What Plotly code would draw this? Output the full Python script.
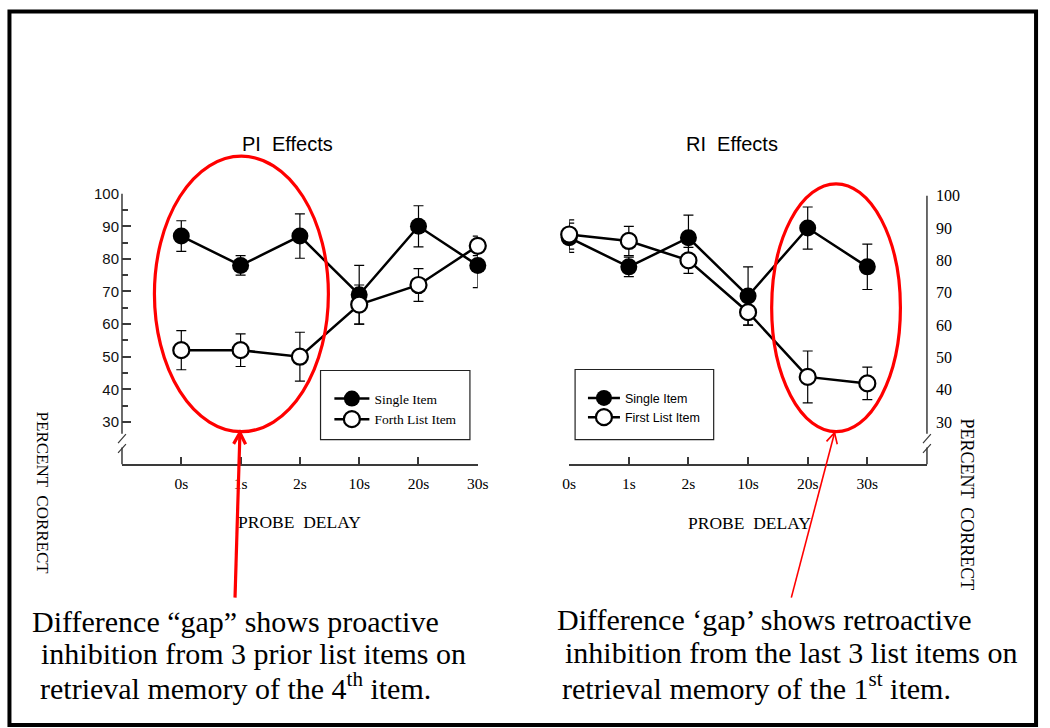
import math
import plotly.graph_objects as go

# ---------------- data ----------------
categories = ["0s", "1s", "2s", "10s", "20s", "30s"]
y_tick_vals = [30, 40, 50, 60, 70, 80, 90, 100]
y_minor_vals = [35, 45, 55, 65, 75, 85, 95]

pi_single = [87, 78, 87, 69, 90, 78]
pi_single_err = [4.7, 3.0, 6.8, 9.0, 6.3, 6.8]
pi_forth = [52, 52, 50, 66, 72, 84]
pi_forth_err = [6.0, 5.0, 7.5, 6.0, 5.0, 3.0]

ri_single = [87, 78, 87, 69, 90, 78]
ri_single_err = [4.5, 3.0, 7.0, 9.0, 6.5, 7.0]
ri_first = [88, 86, 80, 64, 44, 42]
ri_first_err = [4.5, 4.5, 4.0, 4.0, 8.0, 5.0]

W, H = 1050, 728
def px(x):
    return x / W
def py(y):
    return 1 - y / H

SERIF = "Liberation Serif"
SANS = "Liberation Sans"
AX = "#3a3a3a"
RED = "#ff0000"

fig = go.Figure()

def add_pair(xa, ya, single, single_err, other, other_err, other_name, legend):
    fig.add_trace(go.Scatter(
        x=categories, y=single, xaxis=xa, yaxis=ya, name="Single Item",
        mode="lines+markers", legend=legend,
        line=dict(color="black", width=2.5),
        marker=dict(symbol="circle", size=17, color="black"),
        error_y=dict(type="data", array=single_err, color="black", thickness=1.2, width=5),
        cliponaxis=False,
    ))
    fig.add_trace(go.Scatter(
        x=categories, y=other, xaxis=xa, yaxis=ya, name=other_name,
        mode="lines+markers", legend=legend,
        line=dict(color="black", width=2.5),
        marker=dict(symbol="circle", size=16, color="white", line=dict(color="black", width=2.2)),
        error_y=dict(type="data", array=other_err, color="black", thickness=1.2, width=5),
        cliponaxis=False,
    ))

add_pair("x", "y", pi_single, pi_single_err, pi_forth, pi_forth_err, "Forth List Item", "legend")
add_pair("x2", "y2", ri_single, ri_single_err, ri_first, ri_first_err, "First List Item", "legend2")

xcommon = dict(type="category", categoryorder="array", categoryarray=categories,
               showline=True, linecolor=AX, linewidth=1.5, ticks="inside", ticklen=8,
               tickcolor=AX, tickwidth=1.5, showgrid=False, zeroline=False,
               tickfont=dict(family=SERIF, size=15.5, color="black"), ticklabelstandoff=4,
               fixedrange=True)

fig.update_layout(
    width=W, height=H, autosize=False,
    margin=dict(l=0, r=0, t=0, b=0),
    paper_bgcolor="white", plot_bgcolor="white",
    xaxis=dict(domain=[px(117), px(479)], range=[-1, 5], anchor="y", **xcommon),
    yaxis=dict(domain=[py(461), py(187)], range=[17, 100], anchor="x",
               showline=False, showgrid=False, zeroline=False, fixedrange=True,
               tickvals=y_tick_vals, ticks="inside", ticklen=9, tickcolor=AX, tickwidth=1.5,
               minor=dict(tickvals=y_minor_vals, ticks="inside", ticklen=6, tickcolor=AX, tickwidth=1.5),
               tickfont=dict(family=SANS, size=15, color="#111"), ticklabelstandoff=2),
    xaxis2=dict(domain=[px(572), px(936)], range=[0, 6], anchor="y2", **xcommon),
    yaxis2=dict(domain=[py(461), py(189)], range=[17, 100], anchor="x2", side="right",
                showline=False, showgrid=False, zeroline=False, fixedrange=True,
                tickvals=y_tick_vals, ticks="",
                tickfont=dict(family=SERIF, size=16, color="black"), ticklabelstandoff=8),
    legend=dict(x=px(328), y=py(379), xanchor="left", yanchor="top",
                bgcolor="rgba(0,0,0,0)", borderwidth=0, itemwidth=35,
                font=dict(family=SERIF, size=13.5, color="black"), tracegroupgap=0),
    legend2=dict(x=px(586), y=py(379), xanchor="left", yanchor="top",
                 bgcolor="rgba(0,0,0,0)", borderwidth=0, itemwidth=32,
                 font=dict(family=SANS, size=12.5, color="black"), tracegroupgap=0),
    showlegend=True,
)

shapes = []
# outer frame
shapes.append(dict(type="rect", xref="paper", yref="paper", x0=px(2.5), x1=px(1047), y0=py(725), y1=py(2.5),
                   line=dict(color="black", width=4)))
# legend boxes
shapes.append(dict(type="rect", xref="paper", yref="paper", x0=px(319), x1=px(471), y0=py(436), y1=py(366),
                   line=dict(color="#222", width=1.2)))
shapes.append(dict(type="rect", xref="paper", yref="paper", x0=px(578), x1=px(719), y0=py(436), y1=py(365),
                   line=dict(color="#222", width=1.2)))

# broken y-axis lines
def broken_axis(xp, ytop):
    shapes.append(dict(type="line", xref="paper", yref="paper", x0=px(xp), x1=px(xp), y0=py(ytop), y1=py(430),
                       line=dict(color=AX, width=1.5)))
    shapes.append(dict(type="line", xref="paper", yref="paper", x0=px(xp), x1=px(xp), y0=py(444), y1=py(461),
                       line=dict(color=AX, width=1.5)))
    for yc in (435, 445):
        shapes.append(dict(type="line", xref="paper", yref="paper", x0=px(xp - 4), x1=px(xp + 4),
                           y0=py(yc + 4.5), y1=py(yc - 4.5), line=dict(color=AX, width=1.2)))

broken_axis(117, 187)
broken_axis(936, 189)

# red ellipses
shapes.append(dict(type="circle", xref="paper", yref="paper", x0=px(150), x1=px(327), y0=py(428), y1=py(149),
                   line=dict(color=RED, width=3.2)))
shapes.append(dict(type="circle", xref="paper", yref="paper", x0=px(778), x1=px(909), y0=py(428), y1=py(177),
                   line=dict(color=RED, width=3.2)))

# red arrows (line + chevron head)
def arrow(x0, y0, x1, y1, width, head_len, head_ang=28):
    shapes.append(dict(type="line", xref="paper", yref="paper", x0=px(x0), y0=py(y0), x1=px(x1), y1=py(y1),
                       line=dict(color=RED, width=width)))
    ang = math.atan2(y0 - y1, x0 - x1)
    pts = []
    for s in (-1, 1):
        a = ang + s * math.radians(head_ang)
        pts.append((x1 + head_len * math.cos(a), y1 + head_len * math.sin(a)))
    path = "M {:.4f},{:.4f} L {:.4f},{:.4f} L {:.4f},{:.4f}".format(
        px(pts[0][0]), py(pts[0][1]), px(x1), py(y1), px(pts[1][0]), py(pts[1][1]))
    shapes.append(dict(type="path", xref="paper", yref="paper", path=path,
                       line=dict(color=RED, width=width)))

arrow(232, 596, 237, 429, 3.2, 13)
arrow(798, 596, 842, 429, 1.6, 12)

fig.update_layout(shapes=shapes)

ann = []
def text(x, y, t, size, family, xanchor="center", angle=0):
    ann.append(dict(x=px(x), y=py(y), xref="paper", yref="paper", text=t, showarrow=False,
                    xanchor=xanchor, yanchor="middle", textangle=angle,
                    font=dict(family=family, size=size, color="black")))

text(285, 137, "PI  Effects", 20, SANS)
text(738, 137, "RI  Effects", 20, SANS)
text(298, 519, "PROBE  DELAY", 17.5, SERIF)
text(755, 520, "PROBE  DELAY", 17.5, SERIF)
text(36, 490, "PERCENT  CORRECT", 17, SERIF, angle=90)
text(977, 502, "PERCENT  CORRECT", 18, SERIF, angle=90)

text(23, 620, "Difference “gap” shows proactive", 30, SERIF, xanchor="left")
text(33, 653, "inhibition from 3 prior list items on", 30, SERIF, xanchor="left")
text(32, 685, "retrieval memory of the 4<sup>th</sup> item.", 30, SERIF, xanchor="left")
text(558, 618, "Difference ‘gap’ shows retroactive", 30, SERIF, xanchor="left")
text(566, 652, "inhibition from the last 3 list items on", 30, SERIF, xanchor="left")
text(563, 685, "retrieval memory of the 1<sup>st</sup> item.", 30, SERIF, xanchor="left")

fig.update_layout(annotations=ann)

fig.write_html("out.html", config={"displayModeBar": False},
               post_script="document.body.style.margin='0';document.body.style.overflow='hidden';")
